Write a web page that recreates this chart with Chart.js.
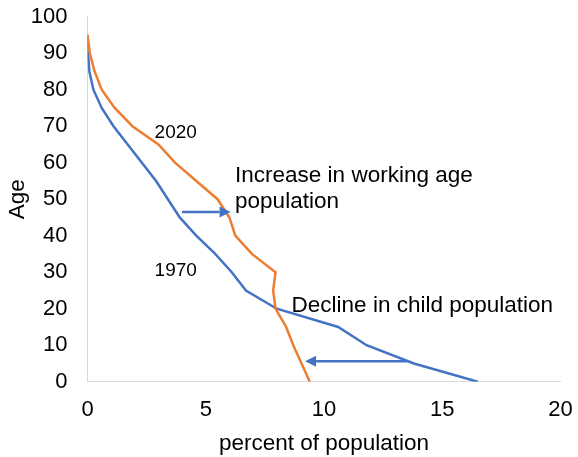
<!DOCTYPE html>
<html>
<head>
<meta charset="utf-8">
<script src="https://cdn.jsdelivr.net/npm/chart.js@4/dist/chart.umd.min.js"></script>
<style>
  html, body { margin: 0; padding: 0; background: #fff; }
  #wrap { width: 578px; height: 457px; }
</style>
</head>
<body>
<div id="wrap"><canvas id="c" width="578" height="457"></canvas></div>
<script>
// Age groups (lower bound of each 5-year band)
const ages = [0, 5, 10, 15, 20, 25, 30, 35, 40, 45, 50, 55, 60, 65, 70, 75, 80, 85, 90, 95];
// Share of population in each age band, percent
const pct1970 = [16.5, 13.8, 11.8, 10.6, 8.0, 6.7, 6.1, 5.4, 4.6, 3.9, 3.4, 2.9, 2.3, 1.7, 1.1, 0.6, 0.25, 0.08, 0.02, 0];
const pct2020 = [9.4, 9.05, 8.7, 8.4, 7.95, 7.85, 7.95, 6.95, 6.25, 6.0, 5.5, 4.6, 3.7, 3.0, 1.9, 1.15, 0.6, 0.3, 0.1, 0];
const seriesNames = ['1970', '2020'];
const xTicks = [0, 5, 10, 15, 20];
const yTicks = [0, 10, 20, 30, 40, 50, 60, 70, 80, 90, 100];

// Arrows showing the shift between the two years: [fromPct, toPct, age]
const arrowWorking = [4.0, 6.05, 46.5];
const arrowChild = [13.5, 9.2, 5.6];

// Text notes, anchored in data coordinates (y = text baseline)
const notes = [
  { text: '2020', x: 3.73, y: 66.8, size: 19, align: 'center' },
  { text: '1970', x: 3.73, y: 28.9, size: 19, align: 'center' },
  { text: 'Increase in working age', x: 6.24, y: 54.8, size: 22.5, align: 'left' },
  { text: 'population', x: 6.24, y: 47.6, size: 22.5, align: 'left' },
  { text: 'Decline in child population', x: 8.63, y: 19.2, size: 22.5, align: 'left' }
];

const BLUE = '#4472C4';
const ORANGE = '#ED7D31';
const FONT = "'Liberation Sans', Arial, sans-serif";

const toPoints = (vals) => ages.map((a, i) => ({ x: vals[i], y: a }));

const overlay = {
  id: 'overlay',
  afterDatasetsDraw(chart) {
    const { ctx, scales: { x, y } } = chart;
    ctx.save();
    const drawArrow = ([from, to, age]) => {
      const x1 = x.getPixelForValue(from);
      const x2 = x.getPixelForValue(to);
      const py = y.getPixelForValue(age);
      const dir = Math.sign(x2 - x1);
      const headLen = 11, headHalf = 5.5;
      ctx.strokeStyle = BLUE;
      ctx.fillStyle = BLUE;
      ctx.lineWidth = 2.5;
      ctx.beginPath();
      ctx.moveTo(x1, py);
      ctx.lineTo(x2 - dir * headLen, py);
      ctx.stroke();
      ctx.beginPath();
      ctx.moveTo(x2, py);
      ctx.lineTo(x2 - dir * headLen, py - headHalf);
      ctx.lineTo(x2 - dir * headLen, py + headHalf);
      ctx.closePath();
      ctx.fill();
    };
    drawArrow(arrowWorking);
    drawArrow(arrowChild);
    ctx.fillStyle = '#000';
    ctx.textBaseline = 'alphabetic';
    notes.forEach(n => {
      ctx.font = n.size + 'px ' + FONT;
      ctx.textAlign = n.align;
      ctx.fillText(n.text, x.getPixelForValue(n.x), y.getPixelForValue(n.y));
    });
    ctx.restore();
  }
};

new Chart(document.getElementById('c'), {
  type: 'scatter',
  data: {
    datasets: [
      { label: seriesNames[0], data: toPoints(pct1970), borderColor: BLUE, borderWidth: 2.5, showLine: true, pointRadius: 0, tension: 0, order: 2 },
      { label: seriesNames[1], data: toPoints(pct2020), borderColor: ORANGE, borderWidth: 2.5, showLine: true, pointRadius: 0, tension: 0, order: 1 }
    ]
  },
  options: {
    responsive: false,
    animation: false,
    devicePixelRatio: 1,
    layout: { padding: 0 },
    plugins: { legend: { display: false }, tooltip: { enabled: false } },
    scales: {
      x: {
        type: 'linear', min: 0, max: 20,
        afterBuildTicks: (s) => { s.ticks = xTicks.map(v => ({ value: v })); },
        afterFit: (s) => { s.height = 75.3; s.paddingLeft = 0; s.paddingRight = 17.5; },
        grid: { display: false, drawTicks: false },
        border: { display: true, color: '#d9d9d9', width: 1 },
        ticks: { color: '#000', font: { family: FONT, size: 22 }, padding: 15 },
        title: { display: true, text: 'percent of population', color: '#000', font: { family: FONT, size: 22.5 }, padding: { top: 6, bottom: 0 } }
      },
      y: {
        type: 'linear', min: 0, max: 100,
        afterBuildTicks: (s) => { s.ticks = yTicks.map(v => ({ value: v })); },
        afterFit: (s) => { s.width = 87.5; s.paddingTop = 16.7; s.paddingBottom = 0; },
        grid: { display: false, drawTicks: false },
        border: { display: true, color: '#d9d9d9', width: 1 },
        ticks: { color: '#000', font: { family: FONT, size: 22 }, padding: 20 },
        title: { display: true, text: 'Age', color: '#000', font: { family: FONT, size: 22.5 }, padding: { top: 4, bottom: 0 } }
      }
    }
  },
  plugins: [overlay]
});
</script>
</body>
</html>
